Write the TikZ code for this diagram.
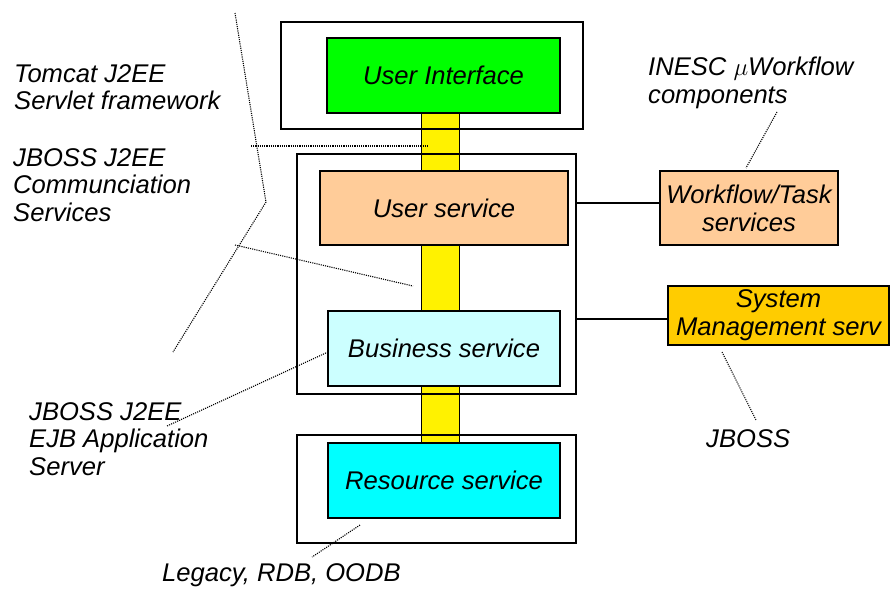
\documentclass[tikz,border=0pt]{standalone}
\usepackage{fontspec}
\setmainfont{Liberation Sans}
\usetikzlibrary{backgrounds}
\begin{document}
\begin{tikzpicture}[x=1pt,y=-1pt,
  txt/.style={font=\fontsize{25.6}{27.8}\selectfont\itshape},
  lbl/.style={txt, inner sep=0pt, align=left, anchor=north west},
  frame/.style={draw=black, line width=1.3pt, inner sep=0pt},
  svc/.style={draw=black, line width=1.3pt, inner sep=0pt, txt, align=center},
  bus/.style={fill=yellow, draw=black, line width=1pt},
  link/.style={draw=black, line width=1.2pt},
  note/.style={line width=1.1pt, dash pattern=on 1.1pt off 1.1pt}]
\useasboundingbox (0,0) rectangle (890,590);
\definecolor{uigreen}{RGB}{0,255,0}
\definecolor{peach}{RGB}{255,204,153}
\definecolor{lcyan}{RGB}{204,255,255}
\definecolor{cyanf}{RGB}{0,255,255}
\definecolor{gold}{RGB}{255,204,0}

% outer frames
\node[frame, minimum width=302pt, minimum height=107pt] (uif) at (432,75.5) {};
\node[frame, minimum width=279pt, minimum height=240pt] (mid) at (436.5,274) {};
\node[frame, minimum width=279pt, minimum height=108pt] (resf) at (436.5,489) {};

% services
\node[svc, fill=uigreen, minimum width=233pt, minimum height=75pt] (ui) at (443.5,75.5) {User Interface};
\node[svc, fill=peach, minimum width=248pt, minimum height=74pt] (us) at (444,208) {User service};
\node[svc, fill=lcyan, minimum width=232pt, minimum height=75pt] (bs) at (444,348.5) {Business service};
\node[svc, fill=cyanf, minimum width=232pt, minimum height=75pt] (rs) at (444,480.5) {Resource service};
\node[svc, fill=peach, minimum width=178pt, minimum height=74pt] (wf) at (749,208) {Workflow/Task\\services};
\node[svc, fill=gold, minimum width=221pt, minimum height=59pt] (sys) at (778.5,315.5) {System\\Management serv};

% buses
\begin{pgfonlayer}{background}
\draw[bus] ([xshift=-22.5pt]ui.south) rectangle ([xshift=15pt]us.north);
\draw[bus] ([xshift=-23pt]us.south) rectangle ([xshift=15pt]bs.north);
\draw[bus] ([xshift=-23pt]bs.south) rectangle ([xshift=15pt]rs.north);
\end{pgfonlayer}

% links
\draw[link] ([yshift=5pt]wf.west) -- ([yshift=5pt]wf.west -| mid.east);
\draw[link] ([yshift=-3.5pt]sys.west) -- ([yshift=-3.5pt]sys.west -| mid.east);

% labels
\node[lbl] (tomcat) at (14,64) {Tomcat J2EE\\Servlet framework};
\node[lbl] (comm) at (13,148) {JBOSS J2EE\\Communciation\\Services};
\node[lbl] (ejb) at (29,402) {JBOSS J2EE\\EJB Application\\Server};
\node[lbl] (legacy) at (162,563) {Legacy, RDB, OODB};
\node[lbl] (inesc) at (648,57) {INESC $\mu$Workflow\\components};
\node[lbl] (jboss) at (706,429) {JBOSS};

% annotation lines
\coordinate (t1) at (235,13);
\coordinate (t2) at (266,202);
\coordinate (t3) at (173,352);
\draw[note] (t1) -- (t2) -- (t3);
\coordinate (h1) at (251,146);
\coordinate (h2) at (429,146);
\draw[note] (h1) -- (h2);
\coordinate (c1) at (235,245);
\coordinate (c2) at (413,286);
\draw[note] (c1) -- (c2);
\coordinate (e1) at (328,352);
\coordinate (e2) at (167,426);
\draw[note] (e1) -- (e2);
\coordinate (r1) at (360,525);
\coordinate (r2) at (312,557);
\draw[note] (r1) -- (r2);
\coordinate (w1) at (777,112);
\coordinate (w2) at (746,168);
\draw[note] (w1) -- (w2);
\coordinate (j1) at (722,352);
\coordinate (j2) at (756,420);
\draw[note] (j1) -- (j2);
\end{tikzpicture}
\end{document}
